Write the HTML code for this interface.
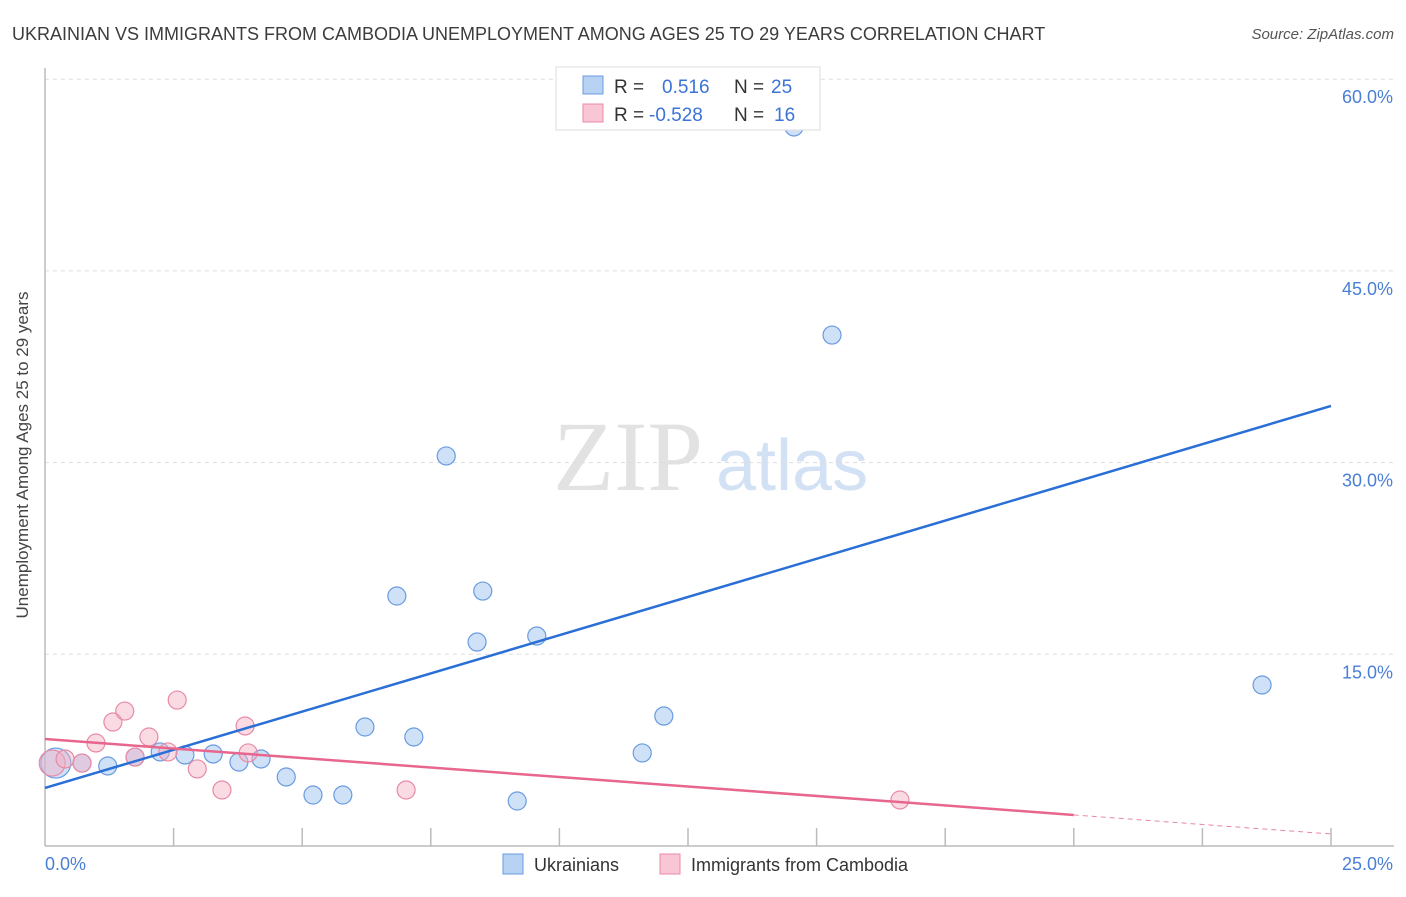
<!DOCTYPE html>
<html><head><meta charset="utf-8"><style>
body{margin:0;background:#fff;font-family:"Liberation Sans",sans-serif}
</style></head><body>
<svg width="1406" height="892" xmlns="http://www.w3.org/2000/svg" font-family="Liberation Sans, sans-serif">
<text x="12" y="40" font-size="18" fill="#3c3c3c">UKRAINIAN VS IMMIGRANTS FROM CAMBODIA UNEMPLOYMENT AMONG AGES 25 TO 29 YEARS CORRELATION CHART</text>
<text x="1394" y="39" font-size="15" fill="#555" text-anchor="end" font-style="italic">Source: ZipAtlas.com</text>
<g>
<text x="553" y="490" font-size="100" font-family="Liberation Serif, serif" fill="#e2e2e2">ZIP</text>
<text x="716" y="490" font-size="72" fill="#d3e1f4">atlas</text>
</g>
<g id="grid"></g>
<line x1="45" y1="68" x2="45" y2="846" stroke="#bbb" stroke-width="1.5"/>
<line x1="45" y1="846" x2="1394" y2="846" stroke="#bbb" stroke-width="1.5"/>
<g id="ticks"></g>
<text x="28" y="455" font-size="17" fill="#444" text-anchor="middle" transform="rotate(-90 28 455)">Unemployment Among Ages 25 to 29 years</text>
<text x="45" y="870" font-size="18" fill="#4a7fd6">0.0%</text>
<text x="1393" y="870" font-size="18" fill="#4a7fd6" text-anchor="end">25.0%</text>
<g id="pts"></g>
<g id="lines"></g>
<g>
<rect x="556" y="67" width="264" height="63" fill="#fff" stroke="#ddd"/>
<rect x="583" y="76" width="20" height="18" fill="#b8d2f4" stroke="#6a9be0"/>
<rect x="583" y="104" width="20" height="18" fill="#f8c6d4" stroke="#e88aa5"/>
<text x="614" y="93" font-size="19" fill="#333">R = <tspan x="662" fill="#3a74d6">0.516</tspan><tspan x="734" fill="#333">N = </tspan><tspan x="771" fill="#3a74d6">25</tspan></text>
<text x="614" y="121" font-size="19" fill="#333">R = <tspan x="649" fill="#3a74d6">-0.528</tspan><tspan x="734" fill="#333">N = </tspan><tspan x="774" fill="#3a74d6">16</tspan></text>
</g>
<g>
<rect x="503" y="854" width="20" height="20" fill="#b8d2f4" stroke="#6a9be0"/>
<text x="534" y="871" font-size="18" fill="#333">Ukrainians</text>
<rect x="660" y="854" width="20" height="20" fill="#f8c6d4" stroke="#e88aa5"/>
<text x="691" y="871" font-size="18" fill="#333">Immigrants from Cambodia</text>
</g>
</svg>
<script>
const yTicks=[15,30,45,60];
const yTickLabels=["15.0%","30.0%","45.0%","60.0%"];
const xTicks=[2.5,5,7.5,10,12.5,15,17.5,20,22.5,25];
const blueX=[0.21,0.72,1.22,1.75,2.24,2.72,3.27,3.77,4.2,4.69,5.21,5.79,6.22,6.84,7.17,7.8,8.4,8.51,9.18,9.56,11.61,12.03,14.56,15.3,23.66];
const blueY=[6.49,6.49,6.26,6.96,7.36,7.12,7.2,6.57,6.81,5.4,3.99,3.99,9.31,19.56,8.53,30.52,15.96,19.95,3.52,16.43,7.28,10.17,56.26,39.98,12.6];
const blueR=[15,9,9,9,9,9,9,9,9,9,9,9,9,9,9,9,9,9,9,9,9,9,9,9,9];
const pinkX=[0.14,0.39,0.72,0.99,1.32,1.55,1.75,2.02,2.39,2.57,2.96,3.44,3.89,3.95,7.02,16.62];
const pinkY=[6.49,6.81,6.49,8.06,9.7,10.56,6.96,8.53,7.36,11.42,6.03,4.38,9.39,7.28,4.38,3.6];
const pinkR=[13,9,9,9,9,9,9,9,9,9,9,9,9,9,9,9];
const blueLine=[[0,4.54],[25,34.43]];
const pinkLine=[[0,8.37],[20,2.43],[25,0.94]];
const NS="http://www.w3.org/2000/svg";
const sx=v=>45+v/25*1286;
const sy=v=>846-v/15*191.7;
function mk(t,a,p){const e=document.createElementNS(NS,t);for(const k in a)e.setAttribute(k,a[k]);document.getElementById(p).appendChild(e);return e;}
yTicks.forEach((t,i)=>{
 const l=mk('line',{x1:45,x2:1394,y1:sy(t),y2:sy(t),stroke:'#ddd','stroke-dasharray':'4,4'},'grid');
 
 
 const tx=mk('text',{x:1393,y:sy(t)+24,'font-size':18,fill:'#4a7fd6','text-anchor':'end'},'grid');
 tx.textContent=yTickLabels[i];
 
 
});
xTicks.forEach(t=>{
 const l=mk('line',{x1:sx(t),x2:sx(t),y1:828,y2:846,stroke:'#bbb','stroke-width':1.5},'ticks');
 
 
});
blueX.forEach((x,i)=>{
 const c=mk('circle',{cx:sx(x),cy:sy(blueY[i]),r:blueR[i],fill:'rgba(160,195,240,0.5)',stroke:'#6a9be0','stroke-width':1.2},'pts');
 
 
});
pinkX.forEach((x,i)=>{
 const c=mk('circle',{cx:sx(x),cy:sy(pinkY[i]),r:pinkR[i],fill:'rgba(245,175,195,0.45)',stroke:'#e88aa5','stroke-width':1.2},'pts');
 
 
});
const bl=mk('line',{x1:sx(blueLine[0][0]),y1:sy(blueLine[0][1]),x2:sx(blueLine[1][0]),y2:sy(blueLine[1][1]),stroke:'#2a6fd6','stroke-width':2.5},'lines');


const pl=mk('line',{x1:sx(pinkLine[0][0]),y1:sy(pinkLine[0][1]),x2:sx(pinkLine[1][0]),y2:sy(pinkLine[1][1]),stroke:'#e8668e','stroke-width':2.5},'lines');


const pd=mk('line',{x1:sx(pinkLine[1][0]),y1:sy(pinkLine[1][1]),x2:sx(pinkLine[2][0]),y2:sy(pinkLine[2][1]),stroke:'#e8889f','stroke-width':1,'stroke-dasharray':'5,4'},'lines');


</script>
</body></html>
